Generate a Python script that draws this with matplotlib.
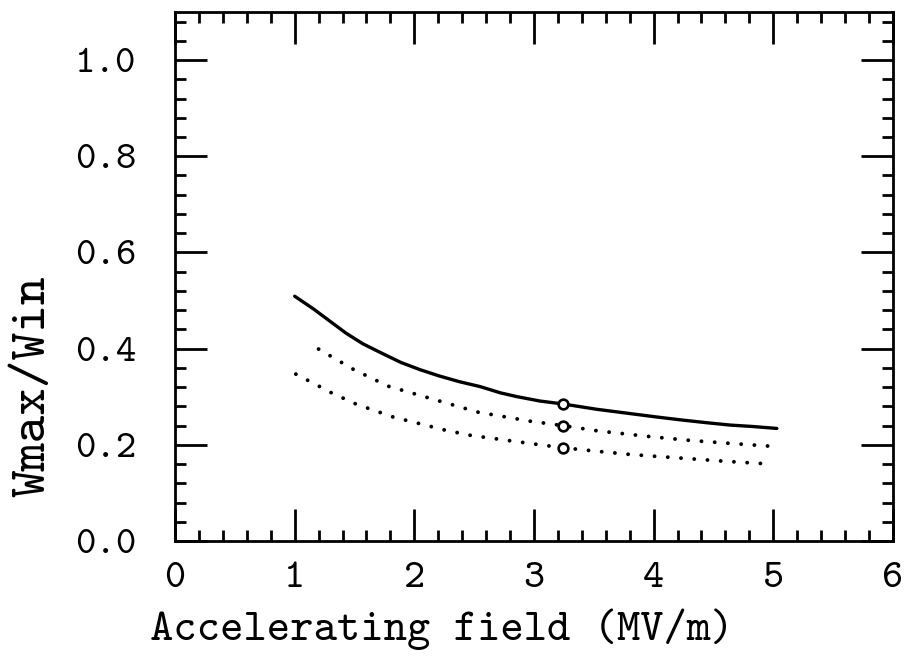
import numpy as np
import matplotlib
matplotlib.use("Agg")
import matplotlib.pyplot as plt
from matplotlib.ticker import MultipleLocator, FormatStrFormatter

# typewriter font shipped with matplotlib
plt.rcParams['font.family'] = ['cmtt10', 'DejaVu Sans Mono']

## data

# solid curve
field_solid = [1.00, 1.16, 1.30, 1.43, 1.57, 1.74, 1.89, 2.05, 2.21, 2.38, 2.55, 2.72,
               2.86, 3.05, 3.24, 3.52, 3.80, 4.02, 4.22, 4.44, 4.64, 4.83, 5.03]
ratio_solid = [0.509, 0.482, 0.456, 0.432, 0.410, 0.389, 0.371, 0.356, 0.343, 0.331, 0.321, 0.308,
               0.300, 0.291, 0.285, 0.274, 0.265, 0.258, 0.252, 0.246, 0.241, 0.238, 0.234]

# upper dotted curve
field_mid = [1.20, 1.49, 1.78, 2.53, 2.97, 3.24, 3.53, 3.97, 4.31, 4.75, 4.98]
ratio_mid = [0.399, 0.357, 0.322, 0.268, 0.249, 0.240, 0.229, 0.217, 0.209, 0.201, 0.197]

# lower dotted curve
field_low = [1.01, 1.21, 1.30, 1.51, 1.82, 2.25, 2.46, 3.02, 3.24, 3.47, 3.80, 4.02, 4.36, 4.58, 4.91]
ratio_low = [0.347, 0.321, 0.309, 0.285, 0.258, 0.231, 0.220, 0.201, 0.194, 0.188, 0.180, 0.176, 0.170, 0.166, 0.161]

# open circle markers at 3.24 MV/m
marker_field = [3.24, 3.24, 3.24]
marker_ratio = [0.285, 0.240, 0.194]

## plot

fig = plt.figure(figsize=(9.13, 6.65), dpi=100)
ax = fig.add_axes([0.1917, 0.1865, 0.7863, 0.7955])

ax.plot(field_solid, ratio_solid, color='black', lw=2.4, solid_capstyle='round', solid_joinstyle='round')
ax.plot(field_mid, ratio_mid, color='black', lw=2.8,
        linestyle=(0, (0.01, 3.4)), dash_capstyle='round')
ax.plot(field_low, ratio_low, color='black', lw=2.8,
        linestyle=(0, (0.01, 3.4)), dash_capstyle='round')
ax.plot(marker_field, marker_ratio, linestyle='none', marker='o', ms=7,
        mfc='white', mec='black', mew=1.9)

ax.set_xlim(0, 6)
ax.set_ylim(0, 1.1)
ax.xaxis.set_major_locator(MultipleLocator(1))
ax.xaxis.set_minor_locator(MultipleLocator(0.2))
ax.yaxis.set_major_locator(MultipleLocator(0.2))
ax.yaxis.set_minor_locator(MultipleLocator(0.04))
ax.xaxis.set_major_formatter(FormatStrFormatter('%d'))
ax.yaxis.set_major_formatter(FormatStrFormatter('%.1f'))

ax.tick_params(which='both', direction='in', top=True, right=True, width=2, color='black')
ax.tick_params(which='major', length=23)
ax.tick_params(which='minor', length=8)
ax.tick_params(axis='x', which='major', pad=15, labelsize=29)
ax.tick_params(axis='y', which='major', pad=28, labelsize=28)

for s in ax.spines.values():
    s.set_linewidth(2)

ax.set_xlabel("Accelerating field (MV/m)", fontsize=32)
ax.xaxis.set_label_coords(0.372, -0.128)
ax.set_ylabel("Wmax/Win", fontsize=38)
ax.yaxis.set_label_coords(-0.165, 0.293)

fig.savefig("out.png", dpi=100)
